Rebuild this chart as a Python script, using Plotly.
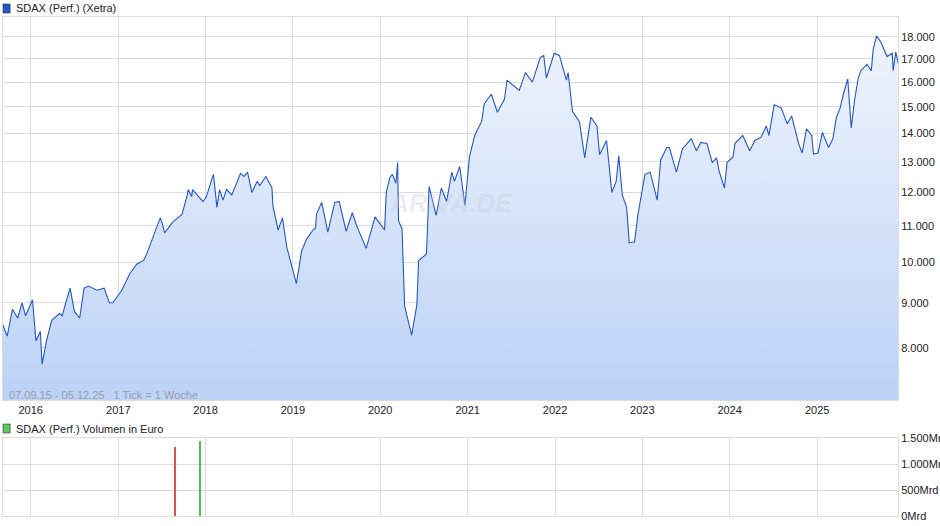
import plotly.graph_objects as go
import pandas as pd

# decimal years and SDAX values
years = [2015.68,2015.73,2015.79,2015.85,2015.90,2015.94,2016.02,2016.06,2016.11,2016.13,2016.18,2016.24,2016.33,2016.36,2016.40,2016.45,2016.50,2016.56,2016.61,2016.66,2016.76,2016.84,2016.90,2016.94,2017.04,2017.13,2017.21,2017.29,2017.33,2017.40,2017.48,2017.50,2017.53,2017.62,2017.73,2017.79,2017.80,2017.84,2017.85,2017.97,2018.01,2018.06,2018.09,2018.13,2018.16,2018.20,2018.24,2018.30,2018.36,2018.40,2018.44,2018.48,2018.53,2018.59,2018.62,2018.69,2018.76,2018.77,2018.83,2018.88,2018.93,2018.98,2019.04,2019.10,2019.16,2019.23,2019.26,2019.27,2019.33,2019.40,2019.48,2019.53,2019.61,2019.68,2019.74,2019.84,2019.94,2020.05,2020.07,2020.11,2020.14,2020.18,2020.20,2020.21,2020.25,2020.28,2020.36,2020.42,2020.44,2020.53,2020.56,2020.64,2020.70,2020.76,2020.82,2020.85,2020.91,2020.97,2021.02,2021.08,2021.16,2021.19,2021.27,2021.34,2021.42,2021.45,2021.59,2021.66,2021.74,2021.83,2021.87,2021.90,2021.99,2022.05,2022.13,2022.15,2022.20,2022.28,2022.34,2022.41,2022.48,2022.51,2022.59,2022.65,2022.70,2022.73,2022.77,2022.82,2022.85,2022.91,2022.95,2023.03,2023.09,2023.17,2023.21,2023.28,2023.31,2023.39,2023.46,2023.56,2023.62,2023.67,2023.74,2023.80,2023.85,2023.88,2023.94,2023.97,2024.04,2024.06,2024.15,2024.23,2024.29,2024.36,2024.42,2024.45,2024.51,2024.59,2024.66,2024.71,2024.79,2024.83,2024.88,2024.94,2024.96,2025.01,2025.06,2025.13,2025.18,2025.22,2025.26,2025.30,2025.35,2025.39,2025.43,2025.47,2025.50,2025.57,2025.62,2025.64,2025.68,2025.73,2025.80,2025.86,2025.87,2025.90,2025.93]
values = [8500,8250,8850,8650,9000,8700,9070,8150,8350,7670,8150,8600,8750,8700,9000,9350,8800,8650,9350,9400,9300,9350,9000,9000,9300,9700,9950,10050,10250,10670,11230,11100,10800,11100,11340,11920,12090,11870,12090,11720,11870,12320,12580,11540,12090,11760,12090,11920,12320,12610,12510,12650,12000,12350,12220,12510,12140,11600,10880,11230,10400,9950,9460,10310,10640,10880,10940,11340,11690,10820,11690,11720,10840,11380,10940,10370,11260,10880,12000,12470,12580,12290,12970,11140,10910,8920,8270,8950,10050,10220,12190,11300,12140,11720,12650,12350,12840,11600,13170,13920,14450,15120,15500,14790,15300,16080,15660,16400,16000,17050,17150,16170,17250,17150,16080,16400,14830,14420,13130,14600,14270,13240,13740,12000,12350,13200,11920,11540,10520,10550,11340,12580,12650,11760,13060,13490,13490,12650,13450,13800,13380,13670,13630,12970,13130,12680,12140,12970,13170,13630,13920,13380,13740,13860,14270,13920,15080,14960,14350,14650,13630,13300,14160,13920,13260,13300,14030,13490,13800,14600,14920,15500,16130,14200,15300,16170,16480,16760,16480,17390,18050,17750,17100,17250,16480,17300,16760,17350,15800,15770,17000]

vol_years = [2017.65, 2017.93]
vol_values = [1330, 1440]  # Mrd Euro
vol_colors = ["#e05050", "#50c050"]

price_ticks = [8000, 9000, 10000, 11000, 12000, 13000, 14000, 15000, 16000, 17000, 18000]
price_labels = ["8.000", "9.000", "10.000", "11.000", "12.000", "13.000", "14.000", "15.000", "16.000", "17.000", "18.000"]
vol_ticks = [0, 500, 1000, 1500]
vol_labels = ["0Mrd", "500Mrd", "1.000Mrd", "1.500Mrd"]
year_ticks = [str(y) for y in range(2016, 2026)]
y_min, y_max = 6986, 18960


def to_date(y):
    yr = int(y)
    start = pd.Timestamp(f"{yr}-01-01")
    return start + pd.Timedelta(days=(y - yr) * 365.25)


dates = [to_date(y) for y in years]
vdates = [to_date(y) for y in vol_years]

fig = go.Figure()
fig.add_trace(go.Scatter(
    x=dates, y=values, mode="lines", line=dict(color="#2458c8", width=1.1),
    fill="tozeroy",
    fillgradient=dict(type="vertical", start=y_min, stop=y_max,
                      colorscale=[[0, "#bcd2f6"], [1, "#f2f6fd"]]),
    xaxis="x", yaxis="y", showlegend=False, hoverinfo="skip"))
fig.add_trace(go.Bar(
    x=vdates, y=vol_values, marker=dict(color=vol_colors, line=dict(width=0)),
    width=86400000 * 4, xaxis="x2", yaxis="y2", showlegend=False))

xr = [pd.Timestamp("2015-09-07"), pd.Timestamp("2025-12-05")]
grid = "#dcdcdc"
fig.update_layout(
    width=940, height=526, margin=dict(l=3, r=42, t=17, b=10, autoexpand=False),
    paper_bgcolor="white", plot_bgcolor="white",
    font=dict(family="Liberation Sans, Arial", size=11, color="#222"),
    xaxis=dict(domain=[0, 1], range=xr, anchor="y", type="date", automargin=False,
               tickvals=[pd.Timestamp(f"{t}-01-01") for t in year_ticks], ticktext=year_ticks,
               showgrid=True, gridcolor=grid, ticks="", showline=True, linecolor=grid, mirror=True,
               tickfont=dict(size=11)),
    yaxis=dict(domain=[0.2325, 1], type="log", range=[3.8442, 4.2778], side="right", automargin=False,
               tickvals=price_ticks, ticktext=price_labels, showgrid=True, gridcolor=grid,
               showline=True, linecolor=grid, mirror=True, ticks="", zeroline=False),
    xaxis2=dict(domain=[0, 1], range=xr, anchor="y2", type="date", automargin=False,
                tickvals=[pd.Timestamp(f"{t}-01-01") for t in year_ticks], showticklabels=False,
                showgrid=True, gridcolor=grid, showline=True, linecolor=grid, mirror=True),
    yaxis2=dict(domain=[0, 0.1563], range=[0, 1500], side="right", automargin=False,
                tickvals=vol_ticks, ticktext=vol_labels, showgrid=True, gridcolor=grid,
                showline=True, linecolor=grid, mirror=True, zeroline=False),
    bargap=0,
)
fig.add_shape(type="rect", xref="paper", yref="paper", x0=0.0, x1=0.008, y0=1.0 + 4/499, y1=1.0 + 13/499,
              fillcolor="#2458c8", line=dict(color="#333", width=0.6))
fig.add_annotation(xref="paper", yref="paper", x=0.012, y=1.0 + 9/499, text="SDAX (Perf.) (Xetra)",
                   showarrow=False, xanchor="left", yanchor="middle", font=dict(size=11, color="#222"))
fig.add_shape(type="rect", xref="paper", yref="paper", x0=0.0, x1=0.008, y0=(516-433)/499, y1=(516-424)/499,
              fillcolor="#5cc85c", line=dict(color="#333", width=0.6))
fig.add_annotation(xref="paper", yref="paper", x=0.012, y=(516-428.5)/499, text="SDAX (Perf.) Volumen in Euro",
                   showarrow=False, xanchor="left", yanchor="middle", font=dict(size=11, color="#222"))
fig.add_annotation(xref="paper", yref="paper", x=0.005, y=(516-395)/499,
                   text="07.09.15 - 05.12.25   1 Tick = 1 Woche",
                   showarrow=False, xanchor="left", yanchor="middle", font=dict(size=11, color="#9aa0aa"))
fig.add_annotation(xref="paper", yref="paper", x=0.5, y=(516-203)/499, text="<i><b>ARIVA.DE</b></i>",
                   showarrow=False, font=dict(size=26, color="rgba(200,205,215,0.35)"))
fig.write_html("out.html", config={"displayModeBar": False},
               post_script="document.body.style.margin='0';document.body.style.overflow='hidden';")
